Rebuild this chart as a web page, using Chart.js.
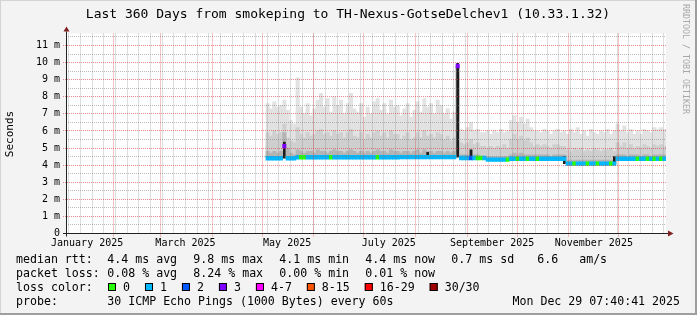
<!DOCTYPE html>
<html>
<head>
<meta charset="utf-8">
<script src="https://cdn.jsdelivr.net/npm/chart.js@4.4.1/dist/chart.umd.min.js"></script>
<style>
html, body { margin: 0; padding: 0; background: #f3f3f3; }
#wrap { width: 697px; height: 315px; }
</style>
</head>
<body>
<div id="wrap"><canvas id="myChart" width="697" height="315"></canvas></div>
<script>
const DAY = 86400000;
const END_TIME = Date.UTC(2025, 11, 29, 7, 40, 41);
const SPAN_DAYS = 360;
const START_TIME = END_TIME - SPAN_DAYS * DAY;

// 2-day bins, the first one starts 120 days into the graph (early May)
const binStart = 120;
const binDays = 2;

// median rtt in ms
const medianRtt = [
  4.40, 4.40, 4.40, 4.40, 4.40, 5.10, 4.40, 4.40, 4.40,
  4.46, 4.46, 4.46, 4.46, 4.46, 4.46, 4.46, 4.46, 4.46, 4.46,
  4.46, 4.46, 4.46, 4.46, 4.46, 4.46, 4.46, 4.46, 4.46, 4.46,
  4.46, 4.46, 4.46, 4.46, 4.46, 4.46, 4.46, 4.46, 4.46, 4.46, 4.46,
  4.47, 4.47, 4.47, 4.47, 4.47, 4.47, 4.47, 4.47, 4.47, 4.47,
  4.47, 4.47, 4.47, 4.47, 4.47, 4.47, 4.47,
  9.80,
  4.42, 4.42, 4.42, 4.42, 4.42, 4.42, 4.42, 4.42,
  4.32, 4.32, 4.32, 4.32, 4.32, 4.32, 4.32,
  4.37, 4.37, 4.37, 4.37, 4.37, 4.37, 4.37, 4.37, 4.37,
  4.37, 4.37, 4.37, 4.37, 4.37, 4.37, 4.37, 4.37,
  4.09, 4.09, 4.09, 4.09, 4.09, 4.09, 4.09, 4.09,
  4.09, 4.09, 4.09, 4.09, 4.09, 4.09, 4.09,
  4.37, 4.37, 4.37, 4.37, 4.37, 4.37, 4.37, 4.37,
  4.37, 4.37, 4.37, 4.37, 4.37, 4.37, 4.37
];

// lost pings (of 30) per bin
const lossCount = [
  1, 1, 1, 1, 1, 3, 1, 1, 1, 1,
  0, 0, 1, 1, 1, 1, 1, 1, 1, 0,
  1, 1, 1, 1, 1, 1, 1, 1, 1, 1,
  1, 1, 1, 0, 1, 1, 1, 1, 1, 1,
  1, 1, 1, 1, 1, 1, 1, 1, 1, 1,
  1, 1, 1, 1, 1, 1, 1, 3, 1, 1,
  1, 2, 1, 0, 0, 1, 1, 1, 1, 1,
  1, 1, 0, 1, 1, 0, 1, 1, 0, 1,
  1, 0, 1, 1, 1, 1, 1, 1, 1, 1,
  1, 1, 0, 1, 1, 1, 0, 1, 1, 0,
  1, 1, 1, 0, 1, 1, 1, 1, 1, 1,
  1, 0, 1, 1, 0, 1, 0, 1, 0, 1
];

// smoke: top of the light, middle and dark grey bands (ms)
const smokeHigh = [
  7.6, 7.3, 7.7, 7.4, 7.5, 7.8, 7.2, 6.6, 6.4,
  9.1,
  7.4, 7.0, 7.6, 6.9, 7.3, 7.8, 8.2, 7.4, 7.9, 7.1,
  8.0, 7.5, 7.8, 7.0, 7.6, 8.2, 7.3, 7.1, 7.6, 6.8,
  7.4, 7.0, 7.7, 7.9, 7.2, 7.6, 7.0, 7.8, 7.4, 7.5,
  6.9, 7.3, 7.6, 6.8, 7.2, 7.7, 7.1, 7.9, 7.4, 7.6,
  7.0, 7.8, 7.5, 7.0, 7.3, 6.7, 7.1,
  6.2,
  6.1, 6.0, 6.2, 6.5, 6.0, 6.1, 5.9, 5.9,
  6.0, 5.8, 6.0, 5.9, 6.1, 5.9, 6.0,
  6.6, 6.9, 6.5, 6.8, 6.4, 6.7, 6.2, 6.0, 6.0,
  5.9, 6.1, 6.0, 5.8, 6.0, 6.1, 5.9, 6.0,
  5.8, 6.1, 5.9, 6.2, 5.8, 6.0, 5.7, 6.1,
  5.9, 5.8, 6.0, 5.9, 6.1, 5.8, 6.0,
  6.4, 6.0, 6.3, 5.9, 6.1, 5.8, 6.0, 5.8,
  6.1, 6.0, 5.9, 6.2, 6.1, 6.2, 6.1
];
const smokeMid = [
  5.9, 5.7, 6.0, 5.8, 5.9, 6.4, 5.6, 5.4, 5.3,
  6.2,
  5.8, 5.6, 5.9, 5.7, 5.8, 6.0, 6.1, 5.8, 5.9, 5.7,
  6.0, 5.8, 5.9, 5.6, 5.9, 6.1, 5.7, 5.6, 5.9, 5.5,
  5.8, 5.6, 5.9, 6.0, 5.7, 5.9, 5.6, 6.0, 5.8, 5.8,
  5.5, 5.7, 5.9, 5.5, 5.6, 5.9, 5.6, 6.0, 5.7, 5.8,
  5.6, 5.9, 5.8, 5.5, 5.7, 5.4, 5.6,
  5.4,
  5.3, 5.2, 5.3, 5.5, 5.2, 5.3, 5.1, 5.1,
  5.0, 5.1, 5.0, 5.1, 5.0, 5.2, 5.0,
  5.5, 5.8, 5.5, 5.7, 5.4, 5.6, 5.3, 5.1, 5.2,
  5.1, 5.2, 5.1, 5.0, 5.2, 5.2, 5.1, 5.1,
  4.9, 4.8, 5.0, 4.9, 5.0, 4.8, 4.9, 4.8,
  5.0, 4.9, 4.8, 4.9, 4.9, 5.0, 4.8,
  5.3, 5.1, 5.3, 5.0, 5.2, 5.0, 5.1, 5.0,
  5.2, 5.1, 5.0, 5.2, 5.1, 5.2, 5.1
];
const smokeLow = [
  4.8, 4.7, 4.8, 4.7, 4.8, 5.9, 5.0, 4.7, 4.6,
  4.9,
  4.8, 4.7, 4.8, 4.8, 4.7, 4.9, 4.8, 4.8, 4.7, 4.8,
  4.9, 4.8, 4.8, 4.7, 4.8, 4.9, 4.8, 4.7, 4.8, 4.7,
  4.8, 4.7, 4.8, 4.9, 4.8, 4.8, 4.7, 4.9, 4.8, 4.8,
  4.7, 4.8, 4.8, 4.7, 4.8, 4.9, 4.7, 4.9, 4.8, 4.8,
  4.7, 4.8, 4.8, 4.7, 4.8, 4.7, 4.8,
  4.7,
  4.6, 4.6, 4.6, 4.9, 4.6, 4.6, 4.5, 4.5,
  4.5, 4.5, 4.5, 4.5, 4.5, 4.5, 4.5,
  4.6, 4.7, 4.6, 4.7, 4.6, 4.6, 4.6, 4.6, 4.6,
  4.6, 4.6, 4.6, 4.5, 4.6, 4.6, 4.6, 4.6,
  4.3, 4.3, 4.3, 4.3, 4.3, 4.3, 4.3, 4.3,
  4.3, 4.3, 4.3, 4.3, 4.3, 4.3, 4.3,
  4.6, 4.6, 4.6, 4.5, 4.6, 4.6, 4.6, 4.5,
  4.6, 4.6, 4.5, 4.6, 4.6, 4.6, 4.6
];

// dark spikes (all pings in one narrow range)
const spikeBins = [5, 48, 57, 61, 89, 104];
const spikeLow = [4.40, 4.47, 4.47, 4.42, 4.09, 4.09];
const spikeHigh = [5.35, 4.75, 9.95, 4.90, 4.50, 4.50];

const yTicks = [0, 1, 2, 3, 4, 5, 6, 7, 8, 9, 10, 11];
const yMax = 11.7;
const monthLabels = ['January 2025', 'March 2025', 'May 2025', 'July 2025', 'September 2025', 'November 2025'];
const monthLabelMonths = [0, 2, 4, 6, 8, 10];

const lossLegend = ['0', '1', '2', '3', '4-7', '8-15', '16-29', '30/30'];
const lossLegendColors = ['#26ff00', '#00b8ff', '#0059ff', '#7e00ff', '#ff00ff', '#ff5500', '#ff0000', '#a10000'];

const rttStats = ['4.4 ms avg', '9.8 ms max', '4.1 ms min', '4.4 ms now', '0.7 ms sd', '6.6   am/s'];
const lossStats = ['0.08 % avg', '8.24 % max', '0.00 % min', '0.01 % now'];

const titleText = 'Last 360 Days from smokeping to TH-Nexus-GotseDelchev1 (10.33.1.32)';
const probeText = '30 ICMP Echo Pings (1000 Bytes) every 60s';
const dateText = 'Mon Dec 29 07:40:41 2025';

const MONO = '"DejaVu Sans Mono", monospace';

function dayOffset(t) {
    return (t - START_TIME) / DAY;
}
function lossColor(n) {
    if (n <= 3) return lossLegendColors[n];
    if (n <= 7) return lossLegendColors[4];
    if (n <= 15) return lossLegendColors[5];
    if (n <= 29) return lossLegendColors[6];
    return lossLegendColors[7];
}

const binCenters = medianRtt.map((m, i) => binStart + binDays * i + binDays / 2);
const smokeBand = top => binCenters.map((x, i) => ({ x: x, y: [medianRtt[i], top[i]] }));

// rrdtool style grid, axes and arrows
const rrdPlugin = {
    id: 'rrdFrame',
    beforeDraw(chart) {
        const { ctx, chartArea: a } = chart;
        ctx.save();
        ctx.fillStyle = '#f3f3f3';
        ctx.fillRect(0, 0, chart.width, chart.height);
        ctx.fillStyle = '#ffffff';
        ctx.fillRect(a.left, a.top, a.right - a.left, a.bottom - a.top);
        ctx.restore();
    },
    afterDatasetsDraw(chart) {
        const { ctx, chartArea: a, scales } = chart;
        const xs = scales.x, ys = scales.y;
        ctx.save();
        ctx.lineWidth = 1;
        ctx.setLineDash([1, 1]);

        // minor grid: sundays and half ms
        ctx.strokeStyle = 'rgba(120,120,120,0.5)';
        ctx.beginPath();
        for (let t = Date.UTC(2025, 0, 5); t < END_TIME; t += 7 * DAY) {
            const px = Math.floor(xs.getPixelForValue(dayOffset(t))) + 0.5;
            ctx.moveTo(px, a.top);
            ctx.lineTo(px, a.bottom);
        }
        for (let v = 0.5; v < yMax; v += 1) {
            const py = Math.floor(ys.getPixelForValue(v)) + 0.5;
            ctx.moveTo(a.left, py);
            ctx.lineTo(a.right, py);
        }
        ctx.stroke();

        // major grid: months and whole ms
        ctx.strokeStyle = 'rgba(215,60,60,0.6)';
        ctx.beginPath();
        for (let m = 1; m < 12; m++) {
            const px = Math.floor(xs.getPixelForValue(dayOffset(Date.UTC(2025, m, 1)))) + 0.5;
            ctx.moveTo(px, a.top);
            ctx.lineTo(px, a.bottom + 3);
        }
        yTicks.slice(1).forEach(v => {
            const py = Math.floor(ys.getPixelForValue(v)) + 0.5;
            ctx.moveTo(a.left - 3, py);
            ctx.lineTo(a.right, py);
        });
        ctx.stroke();

        // axes
        ctx.setLineDash([]);
        ctx.strokeStyle = '#222222';
        ctx.beginPath();
        ctx.moveTo(a.left + 0.5, a.bottom + 3);
        ctx.lineTo(a.left + 0.5, a.top - 2);
        ctx.moveTo(a.left - 3, a.bottom);
        ctx.lineTo(a.right + 2, a.bottom);
        ctx.stroke();

        // arrows
        ctx.fillStyle = '#7f1f1f';
        ctx.beginPath();
        ctx.moveTo(a.left + 0.5, a.top - 7);
        ctx.lineTo(a.left - 2.5, a.top - 2);
        ctx.lineTo(a.left + 3.5, a.top - 2);
        ctx.closePath();
        ctx.fill();
        ctx.beginPath();
        ctx.moveTo(a.right + 7.5, a.bottom);
        ctx.lineTo(a.right + 2, a.bottom - 3);
        ctx.lineTo(a.right + 2, a.bottom + 3);
        ctx.closePath();
        ctx.fill();
        ctx.restore();
    },
    afterDraw(chart) {
        const ctx = chart.ctx;
        ctx.save();
        ctx.fillStyle = '#000000';

        // title
        ctx.font = '13px ' + MONO;
        ctx.textAlign = 'center';
        ctx.textBaseline = 'alphabetic';
        ctx.fillText(titleText, 348, 18);

        // y axis title
        ctx.save();
        ctx.translate(10, 134);
        ctx.rotate(-Math.PI / 2);
        ctx.font = '11px ' + MONO;
        ctx.textBaseline = 'middle';
        ctx.fillText('Seconds', 0, 0);
        ctx.restore();

        // legend
        ctx.font = '11.6px ' + MONO;
        ctx.textAlign = 'left';
        ctx.fillText('median rtt:', 16, 263);
        rttStats.forEach((s, k) => ctx.fillText(s, 107.3 + 86 * k, 263));
        ctx.fillText('packet loss:', 16, 276.5);
        lossStats.forEach((s, k) => ctx.fillText(s, 107.3 + 86 * k, 276.5));
        ctx.fillText('loss color:', 16, 291);
        let bx = 108;
        lossLegend.forEach((lab, k) => {
            ctx.fillStyle = lossLegendColors[k];
            ctx.fillRect(bx, 283, 8, 8);
            ctx.strokeStyle = '#000000';
            ctx.lineWidth = 1;
            ctx.strokeRect(bx + 0.5, 283.5, 7, 7);
            ctx.fillStyle = '#000000';
            ctx.fillText(lab, bx + 15, 291);
            bx += 30 + ctx.measureText(lab).width;
        });
        ctx.fillText('probe:', 16, 304.5);
        ctx.fillText(probeText, 107.3, 304.5);
        ctx.textAlign = 'right';
        ctx.fillText(dateText, 680, 304.5);

        // watermark
        ctx.save();
        ctx.translate(685.5, 4);
        ctx.rotate(Math.PI / 2);
        ctx.font = '8.3px ' + MONO;
        ctx.textAlign = 'left';
        ctx.textBaseline = 'middle';
        ctx.fillStyle = '#a8a8a8';
        ctx.fillText('RRDTOOL / TOBI OETIKER', 0, 0);
        ctx.restore();

        // frame
        ctx.fillStyle = '#d4d4d4';
        ctx.fillRect(0, 0, chart.width, 1);
        ctx.fillRect(0, 0, 1, chart.height);
        ctx.fillStyle = '#9e9e9e';
        ctx.fillRect(chart.width - 2, 0, 2, chart.height);
        ctx.fillRect(0, chart.height - 2, chart.width, 2);
        ctx.restore();
    }
};

const barBase = {
    type: 'bar',
    grouped: false,
    barPercentage: 1,
    categoryPercentage: 1,
    borderWidth: 0
};

new Chart(document.getElementById('myChart'), {
    type: 'bar',
    data: {
        datasets: [
            Object.assign({}, barBase, {
                label: 'median',
                data: binCenters.map((x, i) => ({ x: x, y: [medianRtt[i] - 0.11, medianRtt[i] + 0.11] })),
                backgroundColor: lossCount.map(lossColor)
            }),
            Object.assign({}, barBase, {
                label: 'spikes',
                data: spikeBins.map((b, k) => ({ x: binCenters[b], y: [spikeLow[k], spikeHigh[k]] })),
                backgroundColor: '#1c1c1c',
                barThickness: 2
            }),
            Object.assign({}, barBase, { label: 'smoke low', data: smokeBand(smokeLow), backgroundColor: '#b4b4b4' }),
            Object.assign({}, barBase, { label: 'smoke mid', data: smokeBand(smokeMid), backgroundColor: '#cfcfcf' }),
            Object.assign({}, barBase, { label: 'smoke high', data: smokeBand(smokeHigh), backgroundColor: '#e2e2e2' })
        ]
    },
    options: {
        responsive: false,
        animation: false,
        devicePixelRatio: 1,
        layout: { padding: { left: 0, top: 33.5, right: 31, bottom: 0 } },
        plugins: { legend: { display: false }, tooltip: { enabled: false }, title: { display: false } },
        scales: {
            x: {
                type: 'linear',
                min: 0,
                max: SPAN_DAYS,
                offset: false,
                bounds: 'data',
                grid: { display: false, drawTicks: false },
                border: { display: false },
                afterBuildTicks: s => {
                    s.ticks = monthLabelMonths.map(m => ({ value: dayOffset(Date.UTC(2025, m, 16)) }));
                },
                afterFit: s => { s.height = 81.5; },
                ticks: {
                    autoSkip: false,
                    maxRotation: 0,
                    padding: 4,
                    color: '#000000',
                    font: { family: MONO, size: 10 },
                    callback: (v, i) => monthLabels[i]
                }
            },
            y: {
                type: 'linear',
                min: 0,
                max: yMax,
                bounds: 'data',
                grid: { display: false, drawTicks: false },
                border: { display: false },
                afterBuildTicks: s => {
                    s.ticks = yTicks.map(v => ({ value: v }));
                },
                afterFit: s => { s.width = 66; },
                ticks: {
                    padding: 6,
                    color: '#000000',
                    font: { family: MONO, size: 10 },
                    callback: v => (v === 0 ? '0' : v + ' m')
                }
            }
        }
    },
    plugins: [rrdPlugin]
});
</script>
</body>
</html>
